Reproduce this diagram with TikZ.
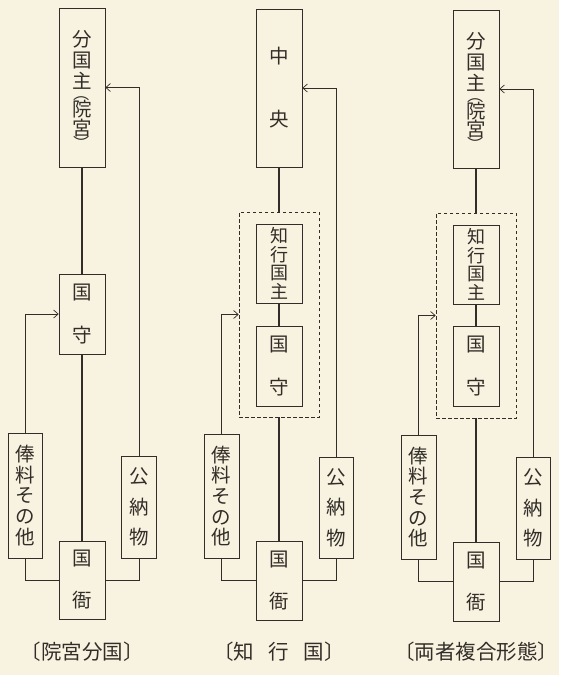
\documentclass[tikz,border=0pt]{standalone}
\usepackage{fontspec}
\usetikzlibrary{arrows.meta}
\newfontfamily\jp{Noto Sans CJK JP}
\definecolor{paper}{RGB}{248,243,224}
\definecolor{ink}{RGB}{50,45,40}
\newcommand\tateopen{\rlap{\makebox[1em]{\smash{\raisebox{17pt}{\rotatebox[origin=c]{-90}{\fontsize{16}{16}\selectfont （}}}}}}
\newcommand\tateclose{\llap{\makebox[1em]{\smash{\raisebox{-14pt}{\rotatebox[origin=c]{-90}{\fontsize{16}{16}\selectfont ）}}}}}}

\begin{document}
\begin{tikzpicture}[x=1pt,y=-1pt,
	office/.style = {draw=ink,line width=0.7pt,inner sep=0pt,align=center,text=ink,font=\jp\fontsize{19.5}{#1}\selectfont},
	office/.default = 21pt,
	fence/.style = {draw=ink,line width=0.7pt,dash pattern=on 3.5pt off 2.5pt,inner sep=0pt},
	flow/.style = {draw=ink,line width=0.7pt},
	trunk/.style = {draw=ink,line width=1.2pt},
	caption/.style = {text=ink,font=\jp\fontsize{20.5}{20.5}\selectfont},
	>={Straight Barb[length=4.5pt,width=8pt]}]
		\fill [paper] (0,0) rectangle (559,675);

		\node (lord1) at (82,87.5) [office=21pt,text depth=9pt,minimum width=46pt,minimum height=159pt] {分\\国\\主\\[7pt]\tateopen 院\\[-2.5pt]宮\tateclose};
		\node (kami1) at (82,314) [office=43pt,minimum width=46pt,minimum height=80pt] {国\\守};
		\node (koku1) at (82,580) [office=42pt,minimum width=46pt,minimum height=78pt] {国\\衙};
		\node (pay1) at (25,495.5) [office=20.7pt,minimum width=34pt,minimum height=125pt] {俸\\料\\そ\\の\\他};
		\node (tax1) at (139,507) [office=30.5pt,minimum width=35pt,minimum height=102pt] {公\\納\\物};
		\node (cap1) at (82,652) [caption] {〔院宮分国〕};
		\draw [trunk] (lord1) -- (kami1) -- (koku1);
		\draw [flow,->] (pay1.north) |- (kami1.west);
		\draw [flow,->] (tax1.north) |- (lord1.east);
		\draw [flow] (pay1.south) |- (koku1.west) (tax1.south) |- (koku1.east);

		\node (lord2) at (279,88) [office=63pt,minimum width=46pt,minimum height=158pt] {中\\央};
		\node (fence2) at (279,314.5) [fence,minimum width=80pt,minimum height=205pt] {};
		\node (chigyo2) at (279,263.5) [office=18.5pt,font=\jp\fontsize{18}{18.5}\selectfont,minimum width=46pt,minimum height=79pt] {知\\行\\国\\主};
		\node (kami2) at (279,366) [office=43pt,minimum width=46pt,minimum height=80pt] {国\\守};
		\node (koku2) at (279,580.5) [office=42pt,minimum width=46pt,minimum height=79pt] {国\\衙};
		\node (pay2) at (221.5,496) [office=20.7pt,minimum width=35pt,minimum height=124pt] {俸\\料\\そ\\の\\他};
		\node (tax2) at (336,507.5) [office=30.5pt,minimum width=34pt,minimum height=101pt] {公\\納\\物};
		\node (cap2) at (279,652) [caption] {〔知\hspace{0.7em}行\hspace{0.7em}国〕};
		\draw [trunk] (lord2) -- (fence2) (chigyo2) -- (kami2) (fence2) -- (koku2);
		\draw [flow,->] (pay2.north) |- (fence2.west);
		\draw [flow,->] (tax2.north) |- (lord2.east);
		\draw [flow] (pay2.south) |- (koku2.west) (tax2.south) |- (koku2.east);

		\node (lord3) at (476,89) [office=21pt,text depth=9pt,minimum width=46pt,minimum height=158pt] {分\\国\\主\\[7pt]\tateopen 院\\[-2.5pt]宮\tateclose};
		\node (fence3) at (476,315.5) [fence,minimum width=80pt,minimum height=205pt] {};
		\node (chigyo3) at (476,264.5) [office=18.5pt,font=\jp\fontsize{18}{18.5}\selectfont,minimum width=46pt,minimum height=79pt] {知\\行\\国\\主};
		\node (kami3) at (476,366) [office=43pt,minimum width=46pt,minimum height=80pt] {国\\守};
		\node (koku3) at (476,581.5) [office=42pt,minimum width=46pt,minimum height=79pt] {国\\衙};
		\node (pay3) at (418.5,497) [office=20.7pt,minimum width=35pt,minimum height=124pt] {俸\\料\\そ\\の\\他};
		\node (tax3) at (533,508) [office=30.5pt,minimum width=34pt,minimum height=102pt] {公\\納\\物};
		\node (cap3) at (476,652) [caption] {〔両者複合形態〕};
		\draw [trunk] (lord3) -- (fence3) (chigyo3) -- (kami3) (fence3) -- (koku3);
		\draw [flow,->] (pay3.north) |- (fence3.west);
		\draw [flow,->] (tax3.north) |- (lord3.east);
		\draw [flow] (pay3.south) |- (koku3.west) (tax3.south) |- (koku3.east);
	\end{tikzpicture}
\end{document}
